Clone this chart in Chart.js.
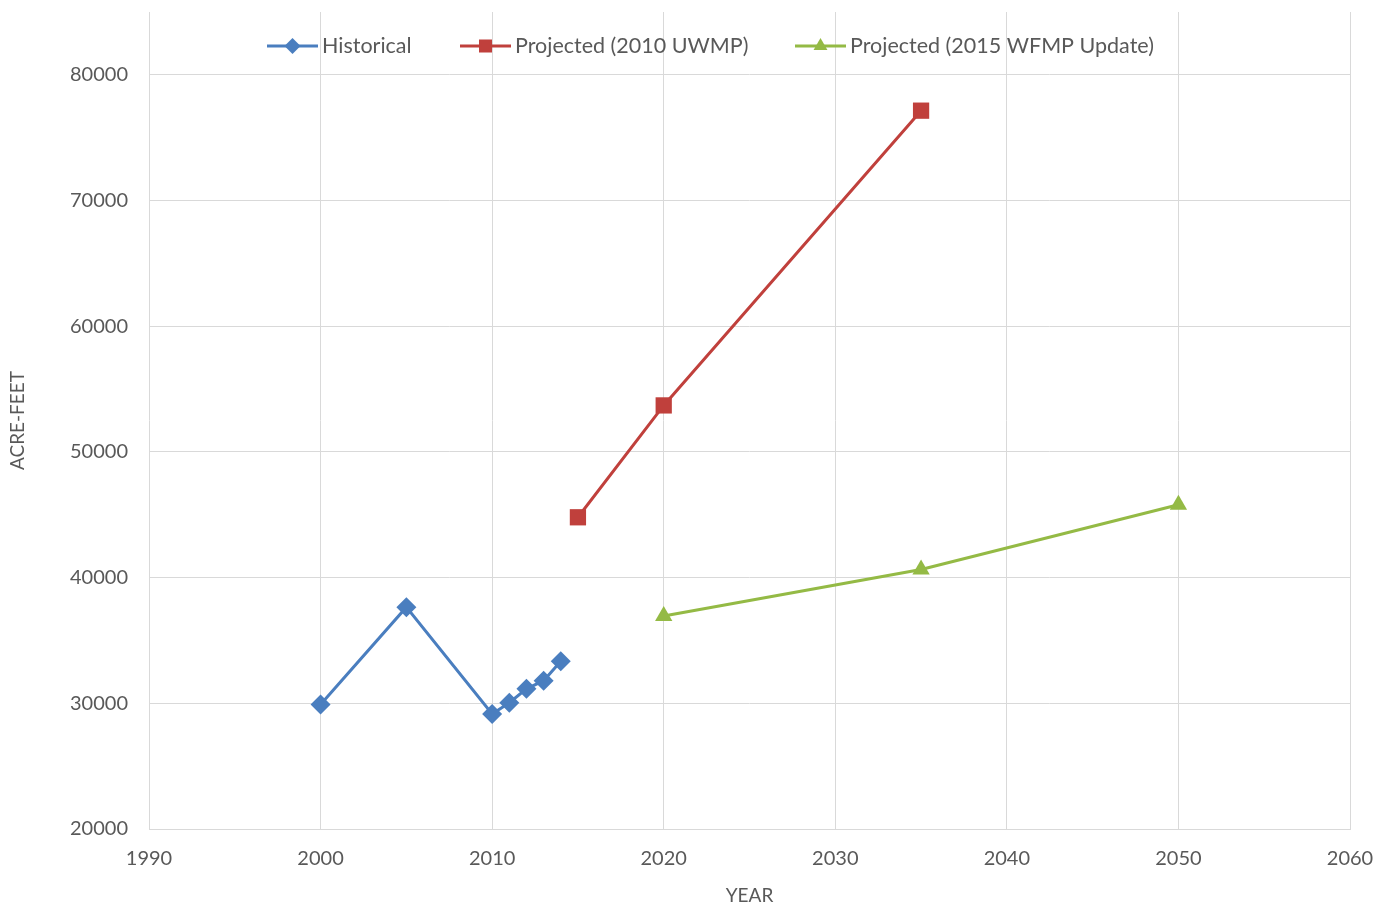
<!DOCTYPE html>
<html><head><meta charset="utf-8">
<script src="https://cdn.jsdelivr.net/npm/chart.js@4/dist/chart.umd.min.js"></script>
<style>html,body{margin:0;padding:0;background:#fff}#wrap{width:1395px;height:911px}</style>
</head><body><div id="wrap"><canvas id="c" width="1395" height="911"></canvas></div>
<script>
const historicalYears = [2000, 2005, 2010, 2011, 2012, 2013, 2014];
const historicalValues = [29900, 37650, 29150, 30050, 31150, 31800, 33350];
const uwmpYears = [2015, 2020, 2035];
const uwmpValues = [44800, 53700, 77150];
const wfmpYears = [2020, 2035, 2050];
const wfmpValues = [36950, 40650, 45800];
const yTicks = [20000, 30000, 40000, 50000, 60000, 70000, 80000];
const xTicks = [1990, 2000, 2010, 2020, 2030, 2040, 2050, 2060];
const seriesLabels = ['Historical', 'Projected (2010 UWMP)', 'Projected (2015 WFMP Update)'];

const FONT = 'Lato, "Open Sans", sans-serif';
const TXT = '#595959';
const pts = (xs, ys) => xs.map((x, i) => ({x, y: ys[i]}));

const legendPlugin = {
  id: 'insideLegend',
  afterDraw(chart, args, opts) {
    const ctx = chart.ctx;
    ctx.save();
    chart.data.datasets.forEach((ds, i) => {
      const x0 = opts.xs[i], y = opts.y, L = opts.lineLen;
      ctx.strokeStyle = ds.borderColor; ctx.lineWidth = ds.borderWidth;
      ctx.beginPath(); ctx.moveTo(x0, y); ctx.lineTo(x0 + L, y); ctx.stroke();
      ctx.fillStyle = ds.backgroundColor;
      Chart.helpers.drawPoint(ctx, {pointStyle: ds.pointStyle, radius: ds.pointRadius * 0.8, borderWidth: 0}, x0 + L / 2, y);
      ctx.fillStyle = TXT;
      ctx.font = opts.fontSize + 'px ' + FONT;
      ctx.textBaseline = 'middle'; ctx.textAlign = 'left';
      ctx.fillText(ds.label, x0 + L + 4, y);
    });
    ctx.restore();
  }
};

new Chart(document.getElementById('c'), {
  type: 'line',
  data: {
    datasets: [
      {label: seriesLabels[0], data: pts(historicalYears, historicalValues), borderColor: '#4a7ebf', backgroundColor: '#4a7ebf', borderWidth: 3, pointStyle: 'rectRot', pointRadius: 10, pointBorderWidth: 0},
      {label: seriesLabels[1], data: pts(uwmpYears, uwmpValues), borderColor: '#c0403c', backgroundColor: '#c0403c', borderWidth: 3, pointStyle: 'rect', pointRadius: 11.5, pointBorderWidth: 0},
      {label: seriesLabels[2], data: pts(wfmpYears, wfmpValues), borderColor: '#94ba45', backgroundColor: '#94ba45', borderWidth: 3, pointStyle: 'triangle', pointRadius: 10, pointBorderWidth: 0}
    ]
  },
  options: {
    responsive: false,
    animation: false,
    layout: {padding: {left: 0, right: 45, top: 12, bottom: 0}},
    plugins: {
      legend: {display: false},
      tooltip: {enabled: false},
      insideLegend: {xs: [267, 460, 795], y: 46, lineLen: 51, fontSize: 21.5}
    },
    scales: {
      x: {
        type: 'linear', min: 1990, max: 2060,
        afterBuildTicks: s => { s.ticks = xTicks.map(v => ({value: v})); },
        afterFit: s => { s.height = 82; s.paddingLeft = 0; s.paddingRight = 0; },
        grid: {color: '#d9d9d9', lineWidth: 1, drawTicks: false},
        border: {color: '#d9d9d9', width: 1},
        ticks: {color: TXT, font: {family: FONT, size: 20}, padding: 18, maxRotation: 0, callback: v => String(v)},
        title: {display: true, text: 'YEAR', color: TXT, font: {family: FONT, size: 19}, padding: {top: 0, bottom: 4}}
      },
      y: {
        type: 'linear', min: 20000, max: 85000,
        afterBuildTicks: s => { s.ticks = yTicks.map(v => ({value: v})); },
        afterFit: s => { s.width = 149; s.paddingTop = 0; s.paddingBottom = 0; },
        grid: {color: '#d9d9d9', lineWidth: 1, drawTicks: false},
        border: {display: false},
        ticks: {color: TXT, font: {family: FONT, size: 20}, padding: 21, callback: v => String(v)},
        title: {display: true, text: 'ACRE-FEET', color: TXT, font: {family: FONT, size: 19}, padding: {top: 6, bottom: 0}}
      }
    }
  },
  plugins: [legendPlugin]
});
</script></body></html>
